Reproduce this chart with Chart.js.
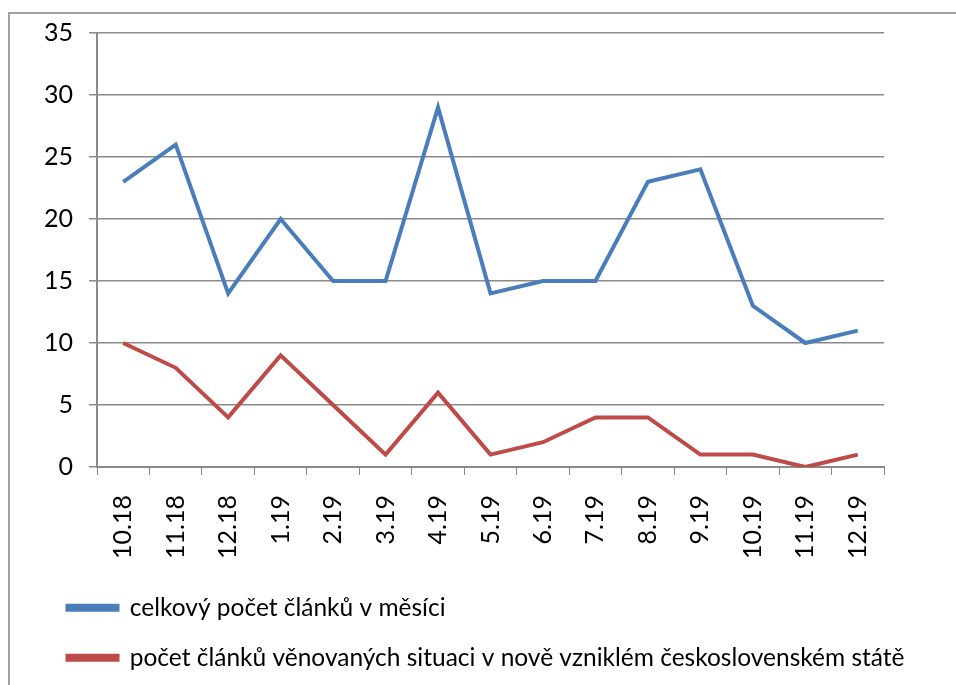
<!DOCTYPE html>
<html lang="cs">
<head>
    <meta charset="UTF-8">
    <title>Počet článků</title>
    <style>
        * {
            margin: 0;
            padding: 0;
            box-sizing: border-box;
        }

        body {
            width: 956px;
            height: 685px;
            overflow: hidden;
            background: #fff;
            position: relative;
        }

        /* frame of the chart object, cut off at the right and bottom */
        .frame {
            position: absolute;
            left: 8px;
            top: 12px;
            width: 1000px;
            height: 800px;
            border-left: 2px solid #a0a0a0;
            border-top: 2px solid #a0a0a0;
        }

        .chart-box {
            position: absolute;
            left: 42px;
            top: 0;
            width: 914px;
            height: 680px;
        }
    </style>
    <script src="https://cdn.jsdelivr.net/npm/chart.js"></script>
</head>
<body>
    <div class="frame"></div>
    <div class="chart-box">
        <canvas id="chart"></canvas>
    </div>

    <script>
        // data
        const months = ['10.18', '11.18', '12.18', '1.19', '2.19', '3.19', '4.19', '5.19',
                        '6.19', '7.19', '8.19', '9.19', '10.19', '11.19', '12.19'];
        const totalArticles = [23, 26, 14, 20, 15, 15, 29, 14, 15, 15, 23, 24, 13, 10, 11];
        const stateArticles = [10, 8, 4, 9, 5, 1, 6, 1, 2, 4, 4, 1, 1, 0, 1];
        const seriesNames = [
            'celkový počet článků v měsíci',
            'počet článků věnovaných situaci v nově vzniklém československém státě'
        ];

        const gridGrey = '#8a8a8a';
        const font = { family: 'Lato', size: 25 };

        new Chart(document.getElementById('chart'), {
            type: 'line',
            data: {
                labels: months,
                datasets: [{
                    label: seriesNames[0],
                    data: totalArticles,
                    borderColor: '#4a7ebb',
                    backgroundColor: '#4a7ebb',
                    borderWidth: 4,
                    pointRadius: 0,
                    tension: 0
                }, {
                    label: seriesNames[1],
                    data: stateArticles,
                    borderColor: '#be4b48',
                    backgroundColor: '#be4b48',
                    borderWidth: 4,
                    pointRadius: 0,
                    tension: 0
                }]
            },
            options: {
                responsive: true,
                maintainAspectRatio: false,
                animation: false,
                layout: {
                    padding: { top: 33, right: 0, bottom: 0, left: 0 }
                },
                scales: {
                    x: {
                        offset: true,
                        grid: {
                            offset: true,
                            drawOnChartArea: false,
                            drawTicks: true,
                            tickLength: 8,
                            color: gridGrey
                        },
                        border: { color: gridGrey, width: 2 },
                        ticks: {
                            color: '#000',
                            font: font,
                            minRotation: 90,
                            maxRotation: 90,
                            padding: 20,
                            autoSkip: false
                        },
                        afterFit: (scale) => { scale.height = 103; }
                    },
                    y: {
                        min: 0,
                        max: 35,
                        ticks: {
                            stepSize: 5,
                            color: '#000',
                            font: font,
                            padding: 16
                        },
                        grid: {
                            color: gridGrey,
                            lineWidth: 1.5,
                            tickLength: 8
                        },
                        border: { color: gridGrey, width: 2 },
                        afterFit: (scale) => { scale.width = 55; }
                    },
                    // empty space right of the plot, so the legend can still use the full width
                    spacer: {
                        type: 'linear',
                        position: 'right',
                        grid: { display: false, drawTicks: false },
                        border: { display: false },
                        ticks: { display: false },
                        afterFit: (scale) => { scale.width = 72; }
                    }
                },
                plugins: {
                    tooltip: { enabled: false },
                    legend: {
                        position: 'bottom',
                        align: 'start',
                        maxHeight: 110,
                        labels: {
                            color: '#000',
                            font: { family: 'Lato', size: 24.5 },
                            boxWidth: 50,
                            boxHeight: 4,
                            padding: 25.5
                        }
                    }
                }
            }
        });
    </script>
</body>
</html>
